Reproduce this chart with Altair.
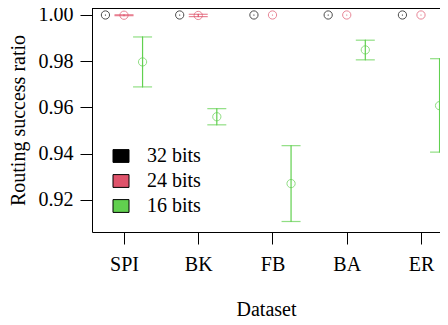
import altair as alt
import pandas as pd

datasets = ["SPI", "BK", "FB", "BA", "ER"]
series = ["32 bits", "24 bits", "16 bits"]
colors = ["#000000", "#DF536B", "#61D04F"]
offsets = [-0.25, 0.0, 0.25]

mean_32 = [1.0, 1.0, 1.0, 1.0, 1.0]
lo_32 = [1.0, 1.0, 1.0, 1.0, 1.0]
hi_32 = [1.0, 1.0, 1.0, 1.0, 1.0]

mean_24 = [0.9999, 0.9998, 1.0, 1.0, 1.0]
lo_24 = [0.9997, 0.9993, 1.0, 1.0, 1.0]
hi_24 = [1.0001, 1.0003, 1.0, 1.0, 1.0]

mean_16 = [0.9797, 0.9560, 0.9271, 0.9849, 0.9608]
lo_16 = [0.9689, 0.9525, 0.9107, 0.9806, 0.9407]
hi_16 = [0.9905, 0.9595, 0.9435, 0.9891, 0.9811]

y_ticks = [0.92, 0.94, 0.96, 0.98, 1.00]
x_domain = [0.569, 5.256]
y_domain = [0.90616, 1.00302]

rows = []
for s, off, m, lo, hi in zip(series, offsets,
                             [mean_32, mean_24, mean_16],
                             [lo_32, lo_24, lo_16],
                             [hi_32, hi_24, hi_16]):
    for i, d in enumerate(datasets):
        rows.append({"dataset": d, "series": s, "pos": i + 1 + off,
                     "mean": m[i], "lo": lo[i], "hi": hi[i]})
df = pd.DataFrame(rows)

FONT = "Liberation Serif"
xs = alt.Scale(domain=x_domain, nice=False, zero=False)
ys = alt.Scale(domain=y_domain, nice=False, zero=False)

label_arr = "[" + ",".join("'%s'" % d for d in datasets) + "]"
xaxis = alt.Axis(values=[1, 2, 3, 4, 5], labelExpr=label_arr + "[datum.value-1]",
                 tickSize=12, labelPadding=10, title="Dataset", titlePadding=25,
                 grid=False)
yaxis = alt.Axis(values=y_ticks, format=".2f", tickSize=12, labelPadding=7,
                 title="Routing success ratio", titlePadding=10, grid=False)

base = alt.Chart(df)
X = alt.X("pos:Q", scale=xs, axis=xaxis)
# data-driven (sorted) domain for the mark colours, so it is not merged with the legend scale
col = alt.Color("series:N", sort=series, scale=alt.Scale(range=colors), legend=None)

bars = base.mark_rule(strokeWidth=1.2, strokeCap="round", clip=False).encode(
    x=X, y=alt.Y("lo:Q", scale=ys, axis=yaxis), y2="hi:Q", color=col)
caps_lo = base.transform_filter("datum.hi > datum.lo").mark_tick(
    orient="horizontal", size=19, thickness=1.2, clip=False).encode(
    x=X, y=alt.Y("lo:Q", scale=ys), color=col)
caps_hi = base.transform_filter("datum.hi > datum.lo").mark_tick(
    orient="horizontal", size=19, thickness=1.2, clip=False).encode(
    x=X, y=alt.Y("hi:Q", scale=ys), color=col)
pts = base.mark_point(shape="circle", filled=False, size=68, strokeWidth=1,
                      clip=False).encode(
    x=X, y=alt.Y("mean:Q", scale=ys), color=col)

# top edge of the plot frame
frame_top = base.mark_rule(color="black", strokeWidth=1).encode(
    y=alt.datum(y_domain[1]))

rect_path = "M-1,-0.8H1V0.8H-1Z"
leg = base.transform_calculate(key="datum.series").mark_point(
    filled=True, shape=rect_path, size=256, stroke="black", strokeWidth=1,
    opacity=0).encode(
    x=X, y=alt.Y("mean:Q", scale=ys),
    fill=alt.Fill("key:N", scale=alt.Scale(domain=series, range=colors),
                  legend=alt.Legend(orient="none", legendX=19, legendY=138,
                                    title=None, padding=0, symbolType=rect_path,
                                    symbolSize=256, symbolStrokeColor="black",
                                    symbolStrokeWidth=1, symbolOpacity=1,
                                    labelFont=FONT, labelFontSize=20,
                                    labelColor="black", labelOffset=16,
                                    rowPadding=5)))

chart = alt.layer(frame_top, bars, caps_lo, caps_hi, pts, leg).properties(
    width=348, height=224,
    autosize=alt.AutoSizeParams(type="none"),
    padding={"left": 84, "top": 0, "right": 0, "bottom": 90},
).configure_view(stroke=None).configure_axis(
    labelFont=FONT, labelFontSize=20, labelColor="black",
    titleFont=FONT, titleFontSize=20, titleFontWeight="normal", titleColor="black",
    domainColor="black", tickColor="black", domainWidth=1, tickWidth=1,
).configure_text(font=FONT)

chart.save("out.html", embed_options={"renderer": "svg", "actions": False})
